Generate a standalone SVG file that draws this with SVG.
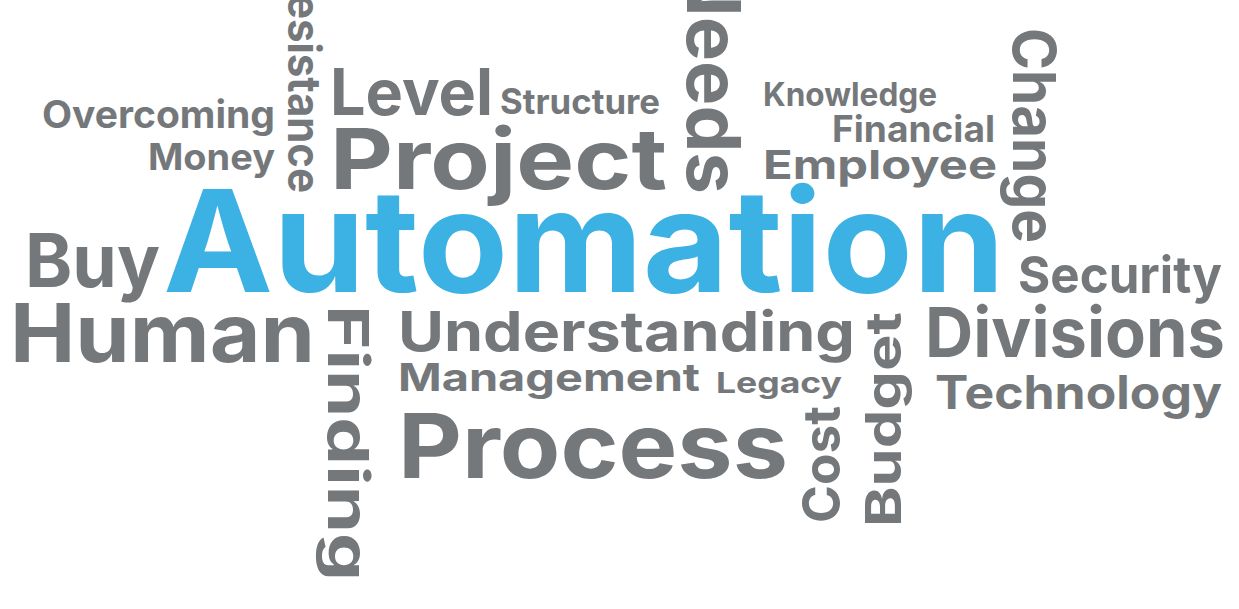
<svg xmlns="http://www.w3.org/2000/svg" width="1239" height="609" viewBox="0 0 1239 609">
<style>
text{font-family:Inter,"Open Sans","DejaVu Sans",sans-serif;font-weight:700;fill:#75787b}
.b{fill:#3cb1e3}
</style>
<rect width="1239" height="609" fill="#ffffff"/>
<g id="words">
<text id="overcoming" x="42" y="128" font-size="38" textLength="233" lengthAdjust="spacingAndGlyphs">Overcoming</text>
<text id="money" x="148" y="170" font-size="37" textLength="127" lengthAdjust="spacingAndGlyphs">Money</text>
<text id="level" x="330" y="115" font-size="64" textLength="163" lengthAdjust="spacingAndGlyphs">Level</text>
<text id="structure" x="500" y="114" font-size="35" textLength="160" lengthAdjust="spacingAndGlyphs">Structure</text>
<text id="project" x="330" y="189" font-size="84" textLength="337" lengthAdjust="spacingAndGlyphs">Project</text>
<text id="knowledge" x="763" y="106" font-size="32" textLength="174" lengthAdjust="spacingAndGlyphs">Knowledge</text>
<text id="financial" x="832" y="142" font-size="37" textLength="163" lengthAdjust="spacingAndGlyphs">Financial</text>
<text id="employee" x="763" y="179" font-size="40" textLength="234" lengthAdjust="spacingAndGlyphs">Employee</text>
<text id="buy" x="25" y="287" font-size="74" textLength="135" lengthAdjust="spacingAndGlyphs">Buy</text>
<text id="automation" class="b" x="163" y="292" font-size="142" textLength="842" lengthAdjust="spacingAndGlyphs">Automation</text>
<text id="security" x="1018" y="293" font-size="51" textLength="204" lengthAdjust="spacingAndGlyphs">Security</text>
<text id="human" x="10" y="362" font-size="81" textLength="305" lengthAdjust="spacingAndGlyphs">Human</text>
<text id="understanding" x="398" y="351" font-size="55" textLength="457" lengthAdjust="spacingAndGlyphs">Understanding</text>
<text id="management" x="398" y="391" font-size="38" textLength="302" lengthAdjust="spacingAndGlyphs">Management</text>
<text id="legacy" x="716" y="393" font-size="29" textLength="126" lengthAdjust="spacingAndGlyphs">Legacy</text>
<text id="process" x="398" y="478" font-size="90" textLength="390" lengthAdjust="spacingAndGlyphs">Process</text>
<text id="divisions" x="925" y="357" font-size="69" textLength="300" lengthAdjust="spacingAndGlyphs">Divisions</text>
<text id="technology" x="935" y="409" font-size="46" textLength="287" lengthAdjust="spacingAndGlyphs">Technology</text>
<text id="resistance" transform="translate(288,193) rotate(90)" text-anchor="end" font-size="45" textLength="226" lengthAdjust="spacingAndGlyphs">Resistance</text>
<text id="needs" transform="translate(687,194) rotate(90)" text-anchor="end" font-size="74" textLength="234" lengthAdjust="spacingAndGlyphs">Needs</text>
<text id="change" transform="translate(1013,28) rotate(90)" font-size="59" textLength="215" lengthAdjust="spacingAndGlyphs">Change</text>
<text id="finding" transform="translate(328,305) rotate(90)" font-size="57" textLength="276" lengthAdjust="spacingAndGlyphs">Finding</text>
<text id="cost" transform="translate(840,523) rotate(-90)" font-size="52" textLength="117" lengthAdjust="spacingAndGlyphs">Cost</text>
<text id="budget" transform="translate(901,527) rotate(-90)" font-size="50" textLength="215" lengthAdjust="spacingAndGlyphs">Budget</text>
</g>
</svg>
